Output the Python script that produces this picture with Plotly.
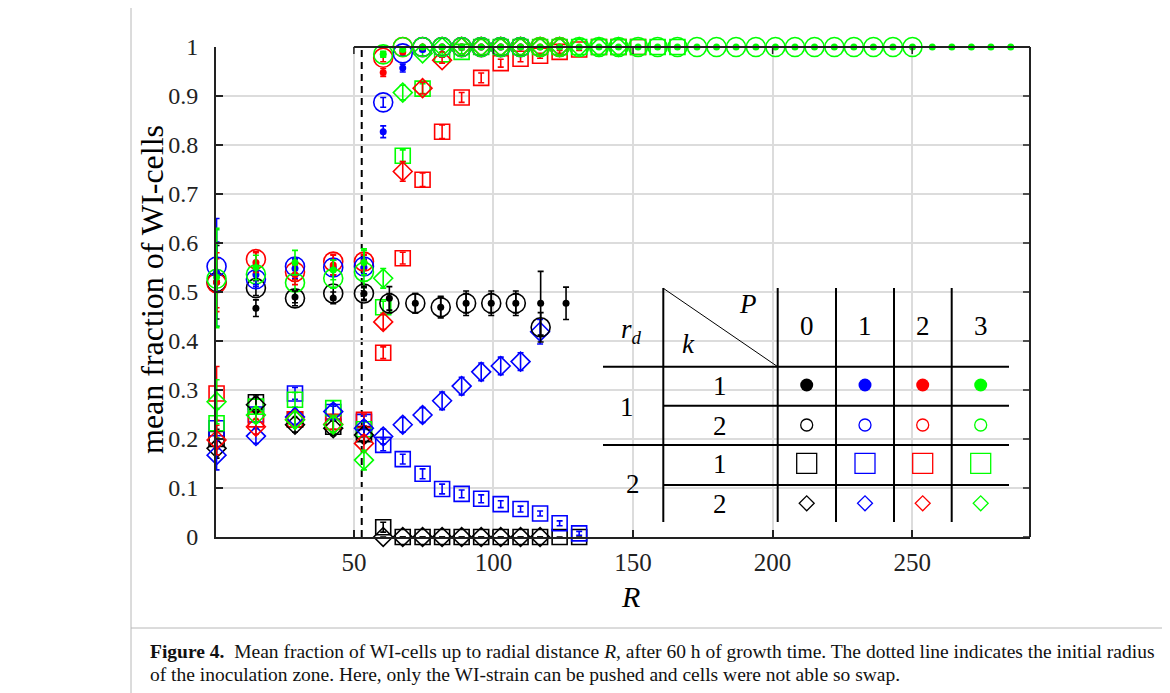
import plotly.graph_objects as go

# ---------------- data ----------------
R_left = [0.8, 14.9, 28.9, 42.6, 53.6]
R_grid = [60.5, 67.5, 74.6, 81.6, 88.6, 95.6, 102.6, 109.7, 116.7, 123.7, 130.7,
          137.8, 144.8, 151.8, 158.8, 165.9, 172.9, 179.9, 186.9, 194.0, 201.0,
          208.0, 215.0, 222.1, 229.1, 236.1, 243.1, 250.1, 257.2, 264.2, 271.2,
          278.2, 285.3, 292.3]
R_black = [62.7, 72.0, 81.1, 90.2, 99.2, 108.0, 116.9, 126.0]

# r_d = 1, k = 1 (filled dots)
black_dot_R = R_left + R_black
black_dot_y = [0.52, 0.467, 0.49, 0.488, 0.497, 0.487, 0.477, 0.469, 0.477, 0.477, 0.477, 0.477, 0.477]
black_dot_e = [0.075, 0.017, 0.012, 0.012, 0.015, 0.024, 0.02, 0.022, 0.025, 0.025, 0.025, 0.065, 0.033]
blue_dot_R = R_left + R_grid[:8]
blue_dot_y = [0.54, 0.535, 0.548, 0.55, 0.55, 0.827, 0.957, 0.995, 1.0, 1.0, 1.0, 1.0, 1.0]
blue_dot_e = [0.11, 0.02, 0.02, 0.015, 0.015, 0.012, 0.008, 0.004, 0, 0, 0, 0, 0]
red_dot_R = R_left + R_grid[:10]
red_dot_y = [0.52, 0.56, 0.535, 0.555, 0.56, 0.948, 0.99, 1.0, 1.0, 1.0, 1.0, 1.0, 1.0, 1.0, 1.0]
red_dot_e = [0.06, 0.02, 0.02, 0.02, 0.015, 0.008, 0.004, 0, 0, 0, 0, 0, 0, 0, 0]
green_dot_R = R_left + R_grid
green_dot_y = [0.53, 0.55, 0.56, 0.545, 0.56, 0.985, 0.995] + [1.0] * 32
green_dot_e = [0.1, 0.025, 0.025, 0.02, 0.025, 0.006, 0.003] + [0] * 32

# r_d = 1, k = 2 (open circles)
black_circ_R = R_left + R_black[:7]
black_circ_y = [0.52, 0.508, 0.487, 0.497, 0.497, 0.477, 0.477, 0.469, 0.477, 0.477, 0.477, 0.428]
black_circ_e = [0.02, 0.015, 0.015, 0.012, 0.012, 0.02, 0.02, 0.02, 0.02, 0.02, 0.02, 0.03]
blue_circ_R = R_left + R_grid[:8]
blue_circ_y = [0.552, 0.526, 0.552, 0.55, 0.552, 0.887, 0.987, 1.0, 1.0, 1.0, 1.0, 1.0, 1.0]
blue_circ_e = [0.05, 0.015, 0.015, 0.015, 0.015, 0.01, 0.005, 0, 0, 0, 0, 0, 0]
red_circ_R = R_left + R_grid[:10]
red_circ_y = [0.518, 0.567, 0.541, 0.562, 0.562, 0.978, 1.0, 1.0, 1.0, 1.0, 1.0, 1.0, 1.0, 1.0, 1.0]
red_circ_e = [0.05, 0.015, 0.015, 0.015, 0.015, 0.008, 0, 0, 0, 0, 0, 0, 0, 0, 0]
green_circ_R = R_left + R_grid[:28]
green_circ_y = [0.527, 0.536, 0.519, 0.528, 0.541, 0.985, 1.0] + [1.0] * 26
green_circ_e = [0.1, 0.02, 0.03, 0.02, 0.047, 0.005, 0] + [0] * 26

# r_d = 2, k = 1 (open squares)
black_sq_R = R_left + R_grid[:11]
black_sq_y = [0.2, 0.275, 0.24, 0.225, 0.21, 0.02, 0, 0, 0, 0, 0, 0, 0, 0, 0, 0]
black_sq_e = [0.02, 0.015, 0.015, 0.015, 0.015, 0.01, 0, 0, 0, 0, 0, 0, 0, 0, 0, 0]
blue_sq_R = R_left + R_grid[:11]
blue_sq_y = [0.222, 0.25, 0.293, 0.255, 0.235, 0.188, 0.159, 0.129, 0.098, 0.088, 0.078, 0.067, 0.057, 0.048, 0.028, 0.0075]
blue_sq_e = [0.04, 0.015, 0.012, 0.012, 0.012, 0.012, 0.01, 0.01, 0.01, 0.008, 0.008, 0.007, 0.006, 0.005, 0.005, 0.004]
red_sq_R = R_left + R_grid[:14]
red_sq_y = [0.293, 0.24, 0.24, 0.235, 0.239, 0.376, 0.569, 0.729, 0.827, 0.897, 0.937, 0.967, 0.976, 0.982, 0.99, 0.995, 1.0, 1.0, 1.0]
red_sq_e = [0.055, 0.015, 0.015, 0.015, 0.012, 0.012, 0.012, 0.014, 0.014, 0.01, 0.01, 0.008, 0.006, 0.005, 0.003, 0.002, 0, 0, 0]
green_sq_R = R_left + R_grid[:16]
green_sq_y = [0.232, 0.266, 0.28, 0.263, 0.22, 0.469, 0.778, 0.915, 0.985, 0.99] + [1.0] * 11
green_sq_e = [0.03, 0.015, 0.015, 0.015, 0.015, 0.012, 0.012, 0.01, 0.005, 0.004] + [0] * 11

# r_d = 2, k = 2 (open diamonds)
black_dia_R = R_left + R_grid[:9]
black_dia_y = [0.181, 0.27, 0.229, 0.222, 0.208, 0, 0, 0, 0, 0, 0, 0, 0, 0]
black_dia_e = [0.02, 0.015, 0.015, 0.015, 0.015, 0, 0, 0, 0, 0, 0, 0, 0, 0]
blue_dia_R = R_left + R_grid[:9]
blue_dia_y = [0.167, 0.206, 0.245, 0.256, 0.222, 0.205, 0.229, 0.249, 0.278, 0.308, 0.337, 0.349, 0.358, 0.419]
blue_dia_e = [0.03, 0.015, 0.015, 0.015, 0.015, 0.015, 0.015, 0.015, 0.018, 0.018, 0.018, 0.018, 0.018, 0.025]
red_dia_R = R_left + R_grid[:10]
red_dia_y = [0.198, 0.225, 0.24, 0.23, 0.191, 0.439, 0.746, 0.916, 0.973, 1.0, 1.0, 1.0, 1.0, 1.0, 1.0]
red_dia_e = [0.03, 0.015, 0.015, 0.015, 0.015, 0.015, 0.02, 0.012, 0.006, 0, 0, 0, 0, 0, 0]
green_dia_R = R_left + R_grid[:13]
green_dia_y = [0.276, 0.249, 0.239, 0.229, 0.157, 0.528, 0.907, 0.987] + [1.0] * 10
green_dia_e = [0.045, 0.015, 0.015, 0.015, 0.02, 0.02, 0.015, 0.006] + [0] * 10

inoculation_R = 52.8
x_ticks = [50, 100, 150, 200, 250]
y_ticks = [0, 0.1, 0.2, 0.3, 0.4, 0.5, 0.6, 0.7, 0.8, 0.9, 1]
y_ticktext = ["0", "0.1", "0.2", "0.3", "0.4", "0.5", "0.6", "0.7", "0.8", "0.9", "1"]
P_values = ["0", "1", "2", "3"]
colors = ["#000000", "#0000FF", "#FF0000", "#00FF00"]

# ---------------- figure ----------------
FONT = "Liberation Serif"
OFF = 8  # page body margin of the html page
L, RP, T, B = 216, 1030, 47, 537          # target plot box on screen
W, H = RP - L, B - T
def px_x(px):
    return (px - L) / W
def px_y(py):
    return (B - py) / H

fig = go.Figure()

def add_series(Rv, yv, ev, color, kind):
    if kind == "dot":
        marker = dict(symbol="circle", size=7, color=color, line=dict(width=0))
    elif kind == "circ":
        marker = dict(symbol="circle-open", size=19, color=color, line=dict(width=1.6, color=color))
    elif kind == "sq":
        marker = dict(symbol="square-open", size=15, color=color, line=dict(width=1.6, color=color))
    else:
        marker = dict(symbol="diamond-open", size=14.5, color=color, line=dict(width=1.6, color=color))
    fig.add_trace(go.Scatter(
        x=Rv, y=yv, mode="markers", marker=marker, cliponaxis=False, showlegend=False,
        error_y=dict(type="data", array=ev, visible=True, color=color, thickness=1.6, width=3)))

series = [
    (black_sq_R, black_sq_y, black_sq_e, 0, "sq"),
    (blue_sq_R, blue_sq_y, blue_sq_e, 1, "sq"),
    (red_sq_R, red_sq_y, red_sq_e, 2, "sq"),
    (green_sq_R, green_sq_y, green_sq_e, 3, "sq"),
    (black_dia_R, black_dia_y, black_dia_e, 0, "dia"),
    (blue_dia_R, blue_dia_y, blue_dia_e, 1, "dia"),
    (red_dia_R, red_dia_y, red_dia_e, 2, "dia"),
    (green_dia_R, green_dia_y, green_dia_e, 3, "dia"),
    (black_circ_R, black_circ_y, black_circ_e, 0, "circ"),
    (red_circ_R, red_circ_y, red_circ_e, 2, "circ"),
    (blue_circ_R, blue_circ_y, blue_circ_e, 1, "circ"),
    (green_circ_R, green_circ_y, green_circ_e, 3, "circ"),
    (black_dot_R, black_dot_y, black_dot_e, 0, "dot"),
    (blue_dot_R, blue_dot_y, blue_dot_e, 1, "dot"),
    (red_dot_R, red_dot_y, red_dot_e, 2, "dot"),
    (green_dot_R, green_dot_y, green_dot_e, 3, "dot"),
]
for Rv, yv, ev, ci, kind in series:
    add_series(Rv, yv, ev, colors[ci], kind)

# ---- legend table (pixel-space overlay axes) ----
col_x = [806.7, 865, 922.7, 980.7]
row_y = [385, 425, 463.3, 503.3]
row_kinds = [("circle", 13, 0), ("circle-open", 12, 1.3), ("square-open", 20, 1.3), ("diamond-open", 11.5, 1.3)]
for ri, (sym, sz, lw) in enumerate(row_kinds):
    fig.add_trace(go.Scatter(
        x=col_x, y=[row_y[ri]] * 4, xaxis="x3", yaxis="y3", mode="markers", showlegend=False,
        marker=dict(symbol=sym, size=sz, color=colors, line=dict(width=lw, color=colors)),
        cliponaxis=False))

shapes = []
tline = dict(color="black", width=2)
for xv in [663.3, 777.7, 836, 894, 951.7]:
    shapes.append(dict(type="line", xref="x3", yref="y3", x0=xv, x1=xv, y0=288, y1=522, line=tline))
for yv, x0 in [(366.7, 603), (405.7, 663), (445, 603), (485, 663)]:
    shapes.append(dict(type="line", xref="x3", yref="y3", x0=x0, x1=1009, y0=yv, y1=yv, line=tline))
shapes.append(dict(type="line", xref="x3", yref="y3", x0=663.3, y0=288.3, x1=777.7, y1=366.7,
                   line=dict(color="black", width=1)))

# axes box pieces
shapes.append(dict(type="line", xref="x", yref="paper", x0=50, x1=292.2, y0=1, y1=1,
                   line=dict(color="#222", width=2)))
shapes.append(dict(type="line", xref="paper", yref="paper", x0=1, x1=1, y0=0, y1=1,
                   line=dict(color="#222", width=2)))
for xv in x_ticks:
    shapes.append(dict(type="line", xref="x", yref="paper", x0=xv, x1=xv, y0=1, y1=1 - 7 / H,
                       line=dict(color="#222", width=1.5)))
for yv in y_ticks:
    shapes.append(dict(type="line", xref="paper", yref="y", x0=1, x1=1 - 7 / W, y0=yv, y1=yv,
                       line=dict(color="#222", width=1.5)))
# inoculation radius
shapes.append(dict(type="line", xref="x", yref="paper", x0=inoculation_R, x1=inoculation_R, y0=0, y1=1,
                   layer="between", line=dict(color="black", width=2, dash="7px,5px")))
# figure frame
frame = dict(color="#b8b8b8", width=1)
shapes.append(dict(type="line", xref="paper", yref="paper", x0=px_x(131), x1=px_x(131), y0=px_y(-10), y1=px_y(700), line=frame))
shapes.append(dict(type="line", xref="paper", yref="paper", x0=px_x(1166), x1=px_x(1166), y0=px_y(-10), y1=px_y(700), line=frame))
shapes.append(dict(type="line", xref="paper", yref="paper", x0=px_x(131), x1=px_x(1166), y0=px_y(628), y1=px_y(628), line=frame))

ann = []
def tab_text(txt, x, y, size=27):
    ann.append(dict(xref="x3", yref="y3", x=x, y=y, text=txt, showarrow=False,
                    xanchor="center", yanchor="middle", font=dict(family=FONT, size=size, color="black")))
tab_text("<i>r</i><sub><i>d</i></sub>", 631.7, 331)
tab_text("<i>P</i>", 748, 304)
tab_text("<i>k</i>", 688, 344)
for ci, p in enumerate(P_values):
    tab_text(p, col_x[ci], 326)
for yv, t in zip(row_y, ["1", "2", "1", "2"]):
    tab_text(t, 720, yv + 1)
tab_text("1", 627.3, 407)
tab_text("2", 632.7, 484)

ann.append(dict(xref="paper", yref="paper", x=px_x(152), y=px_y(290), text="mean fraction of WI-cells",
                textangle=-90, showarrow=False, xanchor="center", yanchor="middle",
                font=dict(family=FONT, size=32, color="black")))
ann.append(dict(xref="paper", yref="paper", x=px_x(630), y=px_y(596), text="<i>R</i>",
                showarrow=False, xanchor="center", yanchor="middle",
                font=dict(family=FONT, size=30, color="black")))
cap_font = dict(family=FONT, size=19.5, color="#111")
ann.append(dict(xref="paper", yref="paper", x=px_x(148), y=px_y(651), xanchor="left", yanchor="middle",
                showarrow=False, font=cap_font, align="left",
                text="<b>Figure 4.</b>  Mean fraction of WI-cells up to radial distance <i>R</i>, after 60 h of growth time. "
                     "The dotted line indicates the initial radius"))
ann.append(dict(xref="paper", yref="paper", x=px_x(148), y=px_y(674), xanchor="left", yanchor="middle",
                showarrow=False, font=cap_font, align="left",
                text="of the inoculation zone. Here, only the WI-strain can be pushed and cells were not able so swap."))

fig.update_layout(
    width=1170, height=693,
    margin=dict(l=L - OFF, r=1170 - RP + OFF, t=T - OFF, b=693 - B + OFF),
    paper_bgcolor="white", plot_bgcolor="rgba(0,0,0,0)",
    font=dict(family=FONT, size=24, color="black"),
    xaxis=dict(range=[0.6, 292.2], tickvals=x_ticks, ticks="inside", ticklen=7, tickwidth=1.5,
               tickcolor="#222", showline=True, linecolor="#222", linewidth=2, zeroline=False,
               showgrid=True, gridcolor="#dcdcdc", gridwidth=1.5, ticklabelstandoff=2,
               tickfont=dict(family=FONT, size=25, color="#222")),
    yaxis=dict(range=[0, 1], tickvals=y_ticks, ticktext=y_ticktext, ticks="inside", ticklen=7,
               tickwidth=1.5, tickcolor="#222", showline=True, linecolor="#222", linewidth=2,
               zeroline=False, showgrid=True, gridcolor="#dcdcdc", gridwidth=1.5, ticklabelstandoff=11,
               tickfont=dict(family=FONT, size=24, color="#222")),
    xaxis3=dict(overlaying="x", anchor="y3", range=[L, RP], visible=False, showgrid=False),
    yaxis3=dict(overlaying="y", anchor="x3", range=[B, T], visible=False, showgrid=False),
    shapes=shapes, annotations=ann,
)

fig.write_html("out.html")
